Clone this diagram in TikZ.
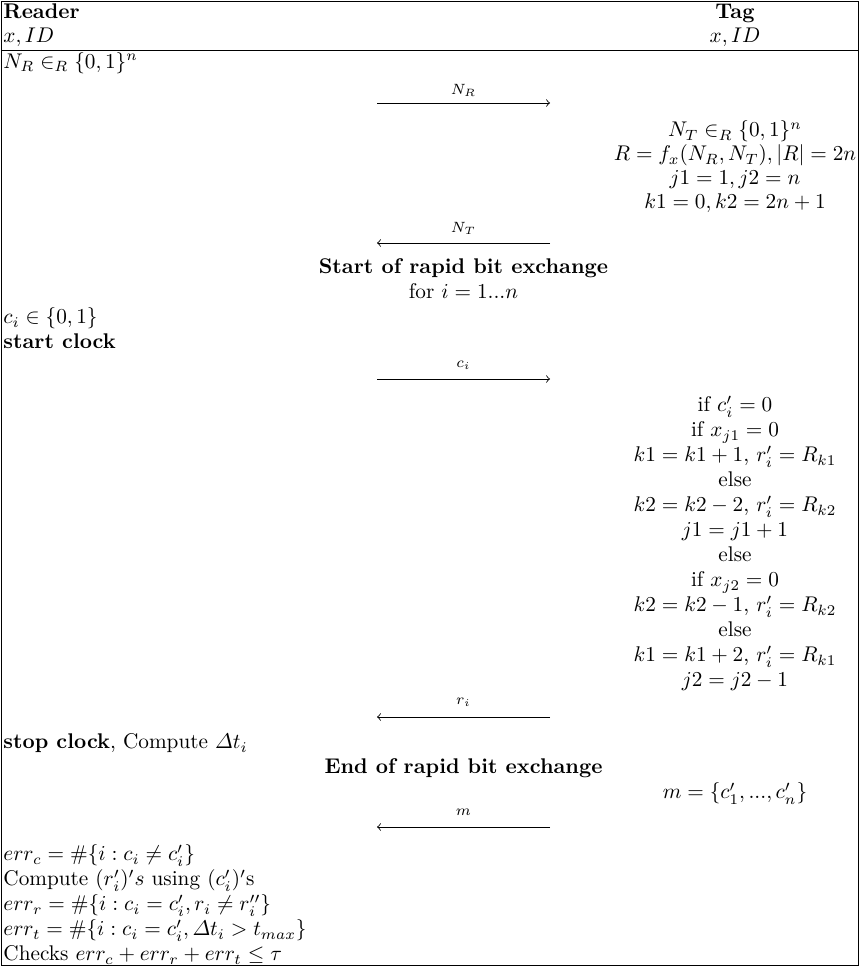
\documentclass[tikz,border=0pt]{standalone}
\usepackage{amsmath}
\begin{document}
\begin{tikzpicture}[x=0.4707pt, y=-0.4707pt,
    cell/.style={inner sep=0pt, text height=7pt, text depth=1.5pt},
    lcell/.style={cell, anchor=west},
    msg/.style={inner sep=0pt, font=\scriptsize}]
    \useasboundingbox (0,0) rectangle (860,966);

    % Cadre
    \draw (1,1) rectangle (858,965);
    \draw (1,50.5) -- (858,50.5);

    % En-tete
    \node[lcell] (reader) at (3,12.5) {\textbf{Reader}};
    \node[lcell] (readerkey) at (3,37) {$x, ID$};
    \node[cell] (tag) at (735,12.5) {\textbf{Tag}};
    \node[cell] (tagkey) at (735,37) {$x, ID$};

    % Initialisation
    \node[lcell] (nr) at (3,62.5) {$N_R \in_R \{0,1\}^n$};
    \node[msg] (nrlab) at (463.5,90) {$N_R$};
    \coordinate (nrA) at (377,103);
    \coordinate (nrB) at (550,103);
    \draw[->] (nrA) -- (nrB);

    \node[cell] (nt) at (735,131) {$N_T \in_R \{0,1\}^n$};
    \node[cell] (rr) at (735,155) {$R = f_x(N_R, N_T), |R| = 2n$};
    \node[cell] (jj) at (735,179) {$j1 = 1, j2 = n$};
    \node[cell] (kk) at (735,203) {$k1 = 0, k2 = 2n+1$};
    \node[msg] (ntlab) at (463.5,228) {$N_T$};
    \coordinate (ntA) at (550,243);
    \coordinate (ntB) at (377,243);
    \draw[->] (ntA) -- (ntB);

    % Echange rapide
    \node[cell] (start) at (463.5,268) {\textbf{Start of rapid bit exchange}};
    \node[cell] (loop) at (463.5,293) {for $i = 1...n$};
    \node[lcell] (ci) at (3,318) {$c_i \in \{0,1\}$};
    \node[lcell] (clk) at (3,343) {\textbf{start clock}};
    \node[msg] (cilab) at (463.5,365) {$c_i$};
    \coordinate (ciA) at (377,379);
    \coordinate (ciB) at (550,379);
    \draw[->] (ciA) -- (ciB);

    \node[cell] (t1) at (735,406) {if $c'_i = 0$};
    \node[cell] (t2) at (735,431) {if $x_{j1} = 0$};
    \node[cell] (t3) at (735,456) {$k1 = k1+1$, $r'_i = R_{k1}$};
    \node[cell] (t4) at (735,481) {else};
    \node[cell] (t5) at (735,506) {$k2 = k2-2$, $r'_i = R_{k2}$};
    \node[cell] (t6) at (735,531) {$j1 = j1+1$};
    \node[cell] (t7) at (735,556) {else};
    \node[cell] (t8) at (735,581) {if $x_{j2} = 0$};
    \node[cell] (t9) at (735,606) {$k2 = k2-1$, $r'_i = R_{k2}$};
    \node[cell] (t10) at (735,631) {else};
    \node[cell] (t11) at (735,656) {$k1 = k1+2$, $r'_i = R_{k1}$};
    \node[cell] (t12) at (735,681) {$j2 = j2-1$};
    \node[msg] (rilab) at (463.5,702) {$r_i$};
    \coordinate (riA) at (550,717);
    \coordinate (riB) at (377,717);
    \draw[->] (riA) -- (riB);

    \node[lcell] (stop) at (3,743) {\textbf{stop clock}, Compute $\varDelta t_i$};
    \node[cell] (end) at (463.5,768) {\textbf{End of rapid bit exchange}};

    % Verification
    \node[cell] (mm) at (735,793) {$m = \{c'_1, ..., c'_n\}$};
    \node[msg] (mlab) at (463.5,812) {$m$};
    \coordinate (mA) at (550,827);
    \coordinate (mB) at (377,827);
    \draw[->] (mA) -- (mB);

    \node[lcell] (errc) at (3,855) {$err_c = \#\{i : c_i \neq c'_i\}$};
    \node[lcell] (comp) at (3,880) {Compute $(r'_i)'s$ using $(c'_i)'$s};
    \node[lcell] (errr) at (3,905) {$err_r = \#\{i : c_i = c'_i, r_i \neq r''_i\}$};
    \node[lcell] (errt) at (3,930) {$err_t = \#\{i : c_i = c'_i, \varDelta t_i > t_{max}\}$};
    \node[lcell] (check) at (3,955) {Checks $err_c + err_r + err_t \leq \tau$};
\end{tikzpicture}
\end{document}
